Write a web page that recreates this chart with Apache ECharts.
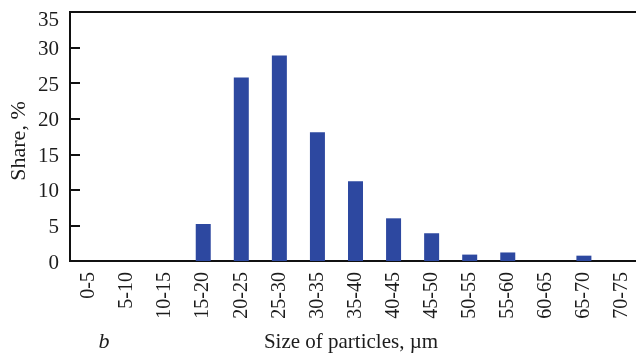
<!DOCTYPE html>
<html>
<head>
<meta charset="utf-8">
<script src="https://cdn.jsdelivr.net/npm/echarts@6/dist/echarts.min.js"></script>
<style>
  html, body { margin: 0; padding: 0; background: #fff; }
  #chart { width: 636px; height: 357px; }
</style>
</head>
<body>
<div id="chart"></div>
<script>
// Particle size classes, µm
const categories = ['0-5', '5-10', '10-15', '15-20', '20-25', '25-30', '30-35', '35-40',
  '40-45', '45-50', '50-55', '55-60', '60-65', '65-70', '70-75'];
// Share of particles in each class, %
const shares = [0, 0, 0, 5.2, 25.8, 28.9, 18.1, 11.2, 6.0, 3.9, 0.9, 1.2, 0, 0.75, 0];

const yMin = 0, yMax = 35, yStep = 5;
const serif = 'Liberation Serif, Times New Roman, serif';
const ink = '#111';
const textInk = '#1c1c1c';

const chart = echarts.init(document.getElementById('chart'), null, { renderer: 'canvas' });

chart.setOption({
  animation: false,
  backgroundColor: '#fff',
  grid: {
    left: 70, top: 12, width: 571, height: 249,
    outerBoundsMode: 'none',
    show: true, borderColor: ink, borderWidth: 2, backgroundColor: 'transparent'
  },
  xAxis: {
    type: 'category',
    data: categories,
    axisLine: { lineStyle: { color: ink, width: 2 } },
    axisTick: { show: false },
    axisLabel: {
      interval: 0, rotate: 90, margin: 11,
      fontFamily: serif, fontSize: 20, color: textInk
    },
    splitLine: { show: false }
  },
  yAxis: {
    type: 'value',
    min: yMin, max: yMax, interval: yStep,
    axisLine: { show: true, lineStyle: { color: ink, width: 2 } },
    axisTick: { show: true, inside: true, length: 10, lineStyle: { color: ink, width: 2 } },
    splitLine: { show: false },
    axisLabel: {
      margin: 11, fontFamily: serif, fontSize: 21, color: textInk,
      formatter: v => v === yMax ? '{top|' + v + '}' : '{n|' + v + '}',
      rich: {
        n: { fontFamily: serif, fontSize: 21, color: textInk, padding: [4, 0, 0, 0] },
        top: { fontFamily: serif, fontSize: 21, color: textInk, padding: [16, 0, 0, 0] }
      }
    }
  },
  series: [{
    type: 'bar',
    data: shares,
    barWidth: 15,
    itemStyle: { color: '#2d48a0' }
  }],
  graphic: [
    {
      type: 'text', x: 19, y: 141, rotation: Math.PI / 2,
      style: {
        text: 'Share, %', fontFamily: serif, fontSize: 22, fill: textInk,
        textAlign: 'center', textVerticalAlign: 'middle'
      }
    },
    {
      type: 'text', x: 351, y: 342,
      style: {
        text: 'Size of particles, µm', fontFamily: serif, fontSize: 21, fill: textInk,
        textAlign: 'center', textVerticalAlign: 'middle'
      }
    },
    {
      type: 'text', x: 104, y: 342,
      style: {
        text: 'b', fontFamily: serif, fontStyle: 'italic', fontSize: 22, fill: textInk,
        textAlign: 'center', textVerticalAlign: 'middle'
      }
    }
  ]
});
</script>
</body>
</html>
